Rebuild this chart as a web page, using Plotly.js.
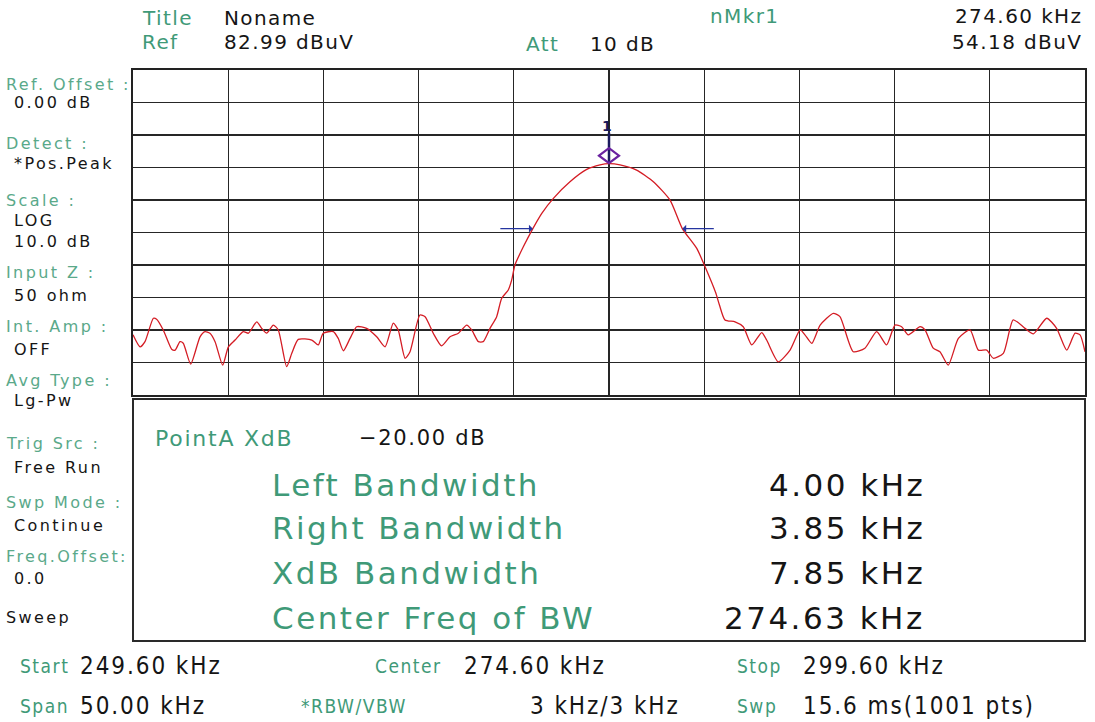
<!DOCTYPE html>
<html>
<head>
<meta charset="utf-8">
<script src="https://cdn.plot.ly/plotly-3.0.1.min.js"></script>
<style>
  html, body { margin:0; padding:0; background:#fff; }
  #chart { width:1095px; height:722px; }
  .annotation-text { letter-spacing: 0.08em; }
  .annotation-text[style*="font-size: 16px"] { letter-spacing: 0.15em; }
  .annotation-text[style*="font-size: 20px"] { letter-spacing: 0.07em; }
</style>
</head>
<body>
<div id="chart"></div>
<script>
// ---- data ----
const freqKHz = [249.60,249.97,250.23,250.67,250.84,251.19,251.63,251.81,252.07,252.24,252.63,253.12,253.38,253.64,253.91,254.31,254.61,254.96,255.39,255.66,256.10,256.36,256.62,256.97,257.23,257.67,257.94,258.28,258.99,259.33,259.59,260.12,260.38,260.65,261.00,261.35,261.87,262.40,262.84,263.27,263.53,263.89,264.15,264.67,264.94,265.37,265.81,266.25,266.69,267.13,267.39,267.74,267.99,268.35,268.70,268.96,269.31,269.49,269.66,270.10,270.60,271.07,271.68,272.55,273.43,274.13,274.60,275.18,276.05,276.93,277.80,278.45,279.21,279.64,280.20,280.40,280.69,281.22,281.65,282.10,282.62,282.88,283.49,284.11,284.64,284.89,285.25,285.69,286.38,286.73,287.43,288.04,288.66,289.18,289.62,289.97,290.32,290.94,291.20,291.63,291.98,292.42,292.95,293.56,294.00,294.44,294.78,295.31,295.83,296.45,296.89,297.59,298.11,298.64,299.08,299.34,299.60];
const levelDbuV = [1.5,-2.2,-0.6,6.6,6.3,3.0,-2.9,-3.2,-0.6,-1.1,-7.5,0.9,2.5,2.0,-0.6,-7.8,-2.2,-0.1,2.5,2.0,5.5,3.5,2.0,4.5,3.0,-8.3,-4.2,0.1,-0.1,-1.6,2.0,2.5,0.4,-3.4,0.4,4.0,3.5,0.9,-2.2,5.1,3.0,-5.7,-3.7,7.6,7.1,2.0,-1.9,0.9,2.0,4.5,3.0,-0.6,-0.6,3.5,7.1,12.7,15.3,18.4,23.0,28.6,34.2,38.9,43.5,48.6,52.4,53.8,54.18,53.8,52.2,48.6,43.0,34.2,28.1,22.5,14.5,10.7,6.1,5.5,4.0,-1.6,2.2,-0.1,-6.8,-3.2,3.0,1.5,-1.1,4.5,8.1,7.1,-3.7,-2.6,2.5,-1.6,4.5,4.0,1.5,4.0,3.0,-2.6,-3.7,-7.8,0.4,3.0,-3.2,-3.2,-5.7,-4.2,6.1,3.5,1.8,6.6,3.5,-3.2,2.0,1.5,-3.7];

const startKHz = 249.60, stopKHz = 299.60, centerKHz = 274.60, spanKHz = 50.00;
const refLevel = 82.99, scaleDb = 10.0, numDivs = 10;
const markerFreq = 274.60, markerLevel = 54.18;
const xdB = -20.00, leftBW = 4.00, rightBW = 3.85, xdbBW = 7.85, centerBW = 274.63;

const headerLabels = ["Title", "Ref", "Att", "nMkr1"];
const headerValues = ["Noname", "82.99 dBuV", "10 dB", "274.60 kHz", "54.18 dBuV"];
const sideLabels = ["Ref. Offset :", "Detect :", "Scale :", "Input Z :", "Int. Amp :", "Avg Type :", "Trig Src :", "Swp Mode :", "Freq.Offset:"];
const sideValues = [["0.00 dB"], ["*Pos.Peak"], ["LOG", "10.0 dB"], ["50 ohm"], ["OFF"], ["Lg-Pw"], ["Free Run"], ["Continue"], ["0.0"]];
const bwLabels = ["Left Bandwidth", "Right Bandwidth", "XdB Bandwidth", "Center Freq of BW"];
const bwValues = [leftBW.toFixed(2) + " kHz", rightBW.toFixed(2) + " kHz", xdbBW.toFixed(2) + " kHz", centerBW.toFixed(2) + " kHz"];
const footLabels = ["Start", "Center", "Stop", "Span", "*RBW/VBW", "Swp"];
const footValues = ["249.60 kHz", "274.60 kHz", "299.60 kHz", "50.00 kHz", "3 kHz/3 kHz", "15.6 ms(1001 pts)"];

// ---- layout helpers (pixel -> paper) ----
const L = 133, R = 1085, T = 70, B = 395;
const W = 1095, H = 722;
const px = x => (x - L) / (R - L);
const py = y => 1 - (y - T) / (B - T);

const GREEN = '#3f9a78', GREEN2 = '#5aa98a', BLACK = '#151515';
const F = 'DejaVu Sans, Verdana, sans-serif';
const FC = 'DejaVu Sans Condensed, DejaVu Sans, sans-serif';

const ann = [];
function txt(text, x, y, size, color, anchor, fam) {
  ann.push({ text: text, xref: 'paper', yref: 'paper', x: px(x), y: py(y),
    xanchor: anchor || 'left', yanchor: 'middle', showarrow: false,
    font: { family: fam || F, size: size, color: color } });
}

// header
txt(headerLabels[0], 140, 18, 20, GREEN);
txt(headerValues[0], 222, 18, 20, BLACK);
txt(headerLabels[1], 140, 42, 20, GREEN);
txt(headerValues[1], 222, 42, 20, BLACK);
txt(headerLabels[2], 524, 44, 20, GREEN);
txt(headerValues[2], 588, 44, 20, BLACK);
txt(headerLabels[3], 708, 16, 20, GREEN);
txt(headerValues[3], 1084, 16, 20, BLACK, 'right');
txt(headerValues[4], 1084, 42, 20, BLACK, 'right');

// side panel
const sideLabelY = [84, 143, 200, 272, 326, 380, 443, 502, 556];
const sideValueY = [[102], [163], [220, 241], [295], [349], [400], [467], [525], [578]];
sideLabels.forEach((s, i) => {
  txt(s, 4, sideLabelY[i], 16, GREEN2);
  sideValues[i].forEach((v, j) => txt(v, 12, sideValueY[i][j], 16, BLACK));
});
txt("Sweep", 4, 617, 16, BLACK);

// info box
txt("PointA XdB", 153, 438, 22, GREEN);
txt((xdB < 0 ? "\u2212" : "") + Math.abs(xdB).toFixed(2) + " dB", 357, 438, 21, BLACK);
const bwY = [485, 528, 573, 618];
bwLabels.forEach((s, i) => {
  txt(s, 270, bwY[i], 31, GREEN);
  txt(bwValues[i], 927, bwY[i], 31, BLACK, 'right');
});

// footer
const footX = [[18, 78], [373, 462], [735, 801], [18, 78], [299, 528], [735, 801]];
const footY = [666, 666, 666, 706, 706, 706];
footLabels.forEach((s, i) => {
  txt(s, footX[i][0], footY[i], 19, GREEN, 'left', FC);
  txt(footValues[i], footX[i][1], footY[i], 24, BLACK, 'left', FC);
});

// marker number
ann.push({ text: '1', x: markerFreq, y: markerLevel, xref: 'x', yref: 'y', showarrow: false,
  yshift: 38, xshift: -2, font: { family: F, size: 14, color: '#1a1a5e', weight: 'bold' } });

// XdB arrows
const xdbLevel = markerLevel + xdB;
ann.push({ x: markerFreq - leftBW, y: xdbLevel, xref: 'x', yref: 'y', ax: -34, ay: 0,
  text: '', showarrow: true, arrowhead: 1, arrowsize: 1, arrowwidth: 1.3, arrowcolor: '#2535a0' });
ann.push({ x: markerFreq + rightBW, y: xdbLevel, xref: 'x', yref: 'y', ax: 33, ay: 0,
  text: '', showarrow: true, arrowhead: 1, arrowsize: 1, arrowwidth: 1.3, arrowcolor: '#2535a0' });

const shapes = [
  { type: 'rect', xref: 'paper', yref: 'paper', x0: px(133), x1: px(1085), y0: py(641), y1: py(399),
    line: { color: '#2a2a2a', width: 2 } },
  { type: 'line', xref: 'x', yref: 'y', ysizemode: 'pixel',
    x0: markerFreq, x1: markerFreq, yanchor: markerLevel, y0: 1, y1: 31,
    line: { color: '#1a1a5e', width: 2.5 } },
  { type: 'path', xref: 'x', yref: 'y', xsizemode: 'pixel', ysizemode: 'pixel',
    xanchor: markerFreq, yanchor: markerLevel,
    path: 'M -10 8 L 0 15.5 L 10 8 L 0 0.5 Z', line: { color: '#6a22a0', width: 2.2 } }
];

const trace = {
  x: freqKHz, y: levelDbuV, type: 'scatter', mode: 'lines',
  line: { color: '#d41c24', width: 1.3, shape: 'spline', smoothing: 0.6 },
  hoverinfo: 'skip'
};

const axisCommon = {
  showticklabels: false, ticks: '', showgrid: true, gridcolor: '#262626', gridwidth: 1.4,
  zeroline: false, showline: true, mirror: true, linecolor: '#222', linewidth: 2, fixedrange: true
};

const layout = {
  width: W, height: H,
  margin: { l: L, r: W - R, t: T, b: H - B },
  paper_bgcolor: '#fff', plot_bgcolor: '#fff',
  showlegend: false,
  xaxis: Object.assign({ range: [startKHz, stopKHz], tick0: startKHz, dtick: spanKHz / numDivs }, axisCommon),
  yaxis: Object.assign({ range: [refLevel - scaleDb * numDivs, refLevel], tick0: refLevel, dtick: scaleDb }, axisCommon),
  annotations: ann,
  shapes: shapes
};

Plotly.newPlot('chart', [trace], layout, { staticPlot: true, displayModeBar: false });
</script>
</body>
</html>
